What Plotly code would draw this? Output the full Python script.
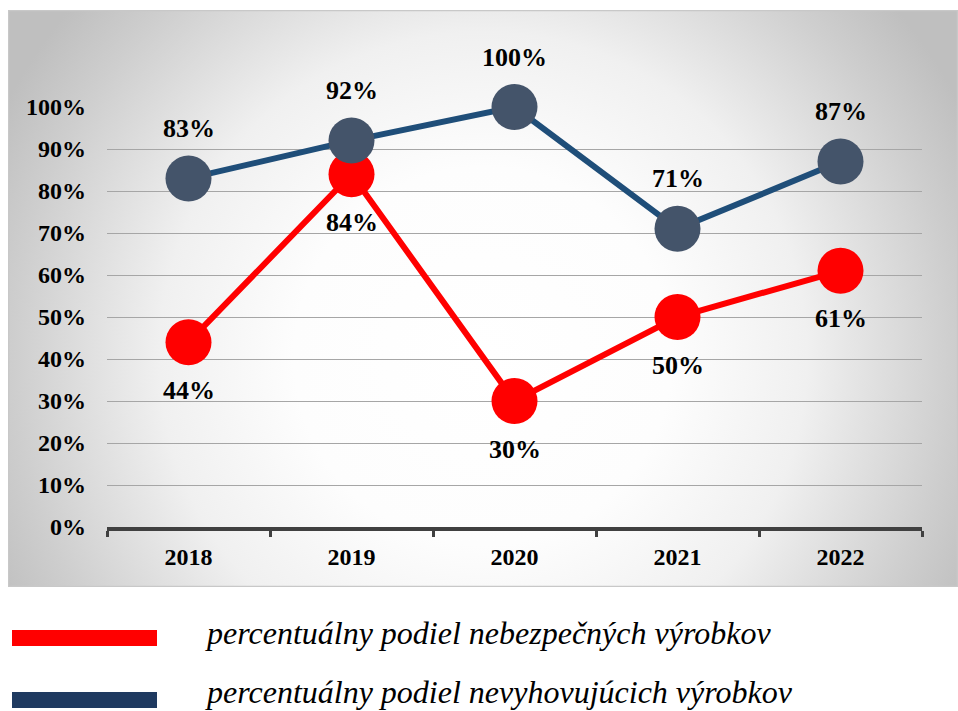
import base64
import plotly.graph_objects as go

years = ["2018", "2019", "2020", "2021", "2022"]
dangerous = [44, 84, 30, 50, 61]        # percentuálny podiel nebezpečných výrobkov
noncompliant = [83, 92, 100, 71, 87]    # percentuálny podiel nevyhovujúcich výrobkov
y_ticks = [0, 10, 20, 30, 40, 50, 60, 70, 80, 90, 100]
y_tick_labels = [f"{v}%" for v in y_ticks]
legend_names = ["percentuálny podiel nebezpečných výrobkov",
                "percentuálny podiel nevyhovujúcich výrobkov"]

RED = "#FF0000"
BLUE_LINE = "#1F4E79"
BLUE_MARK = "#44546A"
BLUE_LEG = "#1F3A60"
FONT = "Liberation Serif, Times New Roman, serif"

W, H = 958, 711
L, T = 107, 107
R = W - 922
B = H - 527
PW, PH = W - L - R, H - T - B


def px_x(p):  # window pixel -> paper x
    return (p - L) / PW


def px_y(p):  # window pixel -> paper y
    return (H - B - p) / PH


# radial gradient panel background (as SVG image)
pw, ph = 950, 577
svg = f"""<svg xmlns='http://www.w3.org/2000/svg' width='{pw}' height='{ph}' viewBox='0 0 {pw} {ph}' preserveAspectRatio='none'>
<defs><radialGradient id='g' gradientUnits='userSpaceOnUse' cx='{pw*0.5}' cy='{ph*0.6}' r='540'>
<stop offset='0' stop-color='#ffffff'/><stop offset='0.35' stop-color='#fdfdfd'/>
<stop offset='0.6' stop-color='#f0f0f0'/><stop offset='0.87' stop-color='#cecece'/>
<stop offset='1' stop-color='#bfbfbf'/></radialGradient></defs>
<rect x='0' y='0' width='{pw}' height='{ph}' fill='url(#g)'/>
<rect x='0.5' y='0.5' width='{pw-1}' height='{ph-1}' fill='none' stroke='#c8c8c8' stroke-width='1.5'/>
</svg>"""
src = "data:image/svg+xml;base64," + base64.b64encode(svg.encode()).decode()

fig = go.Figure()
fig.add_trace(go.Scatter(
    x=years, y=dangerous, mode="lines+markers", name=legend_names[0],
    line=dict(color=RED, width=6),
    marker=dict(color=RED, size=46, line=dict(width=0)),
    cliponaxis=False, showlegend=False, hoverinfo="x+y"))
fig.add_trace(go.Scatter(
    x=years, y=noncompliant, mode="lines+markers", name=legend_names[1],
    line=dict(color=BLUE_LINE, width=6),
    marker=dict(color=BLUE_MARK, size=46, line=dict(width=0)),
    cliponaxis=False, showlegend=False, hoverinfo="x+y"))

LABEL_FONT = dict(family=FONT, size=26, color="black", weight="bold")
annotations = []
for i, yv in enumerate(noncompliant):
    annotations.append(dict(x=i, y=yv, xref="x", yref="y", text=f"{yv}%",
                            showarrow=False, yshift=50, yanchor="middle",
                            font=LABEL_FONT))
for i, yv in enumerate(dangerous):
    annotations.append(dict(x=i, y=yv, xref="x", yref="y", text=f"{yv}%",
                            showarrow=False, yshift=-48, yanchor="middle",
                            font=LABEL_FONT))

# legend drawn below the panel
shapes = []
leg_colors = [RED, BLUE_LEG]
leg_bar_y = [638, 700]
leg_text_y = [633, 692]
for name, col, yb, yt in zip(legend_names, leg_colors, leg_bar_y, leg_text_y):
    shapes.append(dict(type="line", xref="paper", yref="paper",
                       x0=px_x(12), x1=px_x(157), y0=px_y(yb), y1=px_y(yb),
                       line=dict(color=col, width=16)))
    annotations.append(dict(x=px_x(203), y=px_y(yt), xref="paper", yref="paper",
                            text=name, showarrow=False,
                            xanchor="left", yanchor="middle",
                            font=dict(family=FONT, size=32, color="black", style="italic")))

fig.update_layout(
    width=W, height=H,
    margin=dict(l=L, r=R, t=T, b=B, pad=0, autoexpand=False),
    paper_bgcolor="white", plot_bgcolor="rgba(0,0,0,0)",
    font=dict(family=FONT, color="black"),
    showlegend=False,
    annotations=annotations,
    shapes=shapes,
    images=[dict(source=src, xref="paper", yref="paper",
                 x=px_x(8), y=px_y(10), sizex=pw / PW, sizey=ph / PH,
                 xanchor="left", yanchor="top", sizing="stretch", layer="below")],
)
fig.update_xaxes(
    type="category", categoryorder="array", categoryarray=years,
    range=[-0.5, len(years) - 0.5], autorange=False,
    showgrid=False, showline=True, linecolor="#404040", linewidth=4,
    ticks="outside", tickson="boundaries", ticklen=6, tickwidth=3, tickcolor="#404040",
    tickangle=0, automargin=False,
    tickfont=dict(family=FONT, size=24, color="black", weight="bold"), ticklabelstandoff=5,
    zeroline=False, fixedrange=True)
fig.update_yaxes(
    range=[0, 100], autorange=False, tickvals=y_ticks, ticktext=y_tick_labels,
    showgrid=True, gridcolor="#a6a6a6", gridwidth=1, zeroline=False, showline=False,
    automargin=False,
    tickfont=dict(family=FONT, size=24, color="black", weight="bold"), ticklabelstandoff=20,
    fixedrange=True)

fig.write_html(
    "out.html",
    config={"displayModeBar": False},
    post_script="document.documentElement.style.overflow='hidden';"
                "document.body.style.margin='0';document.body.style.overflow='hidden';")
